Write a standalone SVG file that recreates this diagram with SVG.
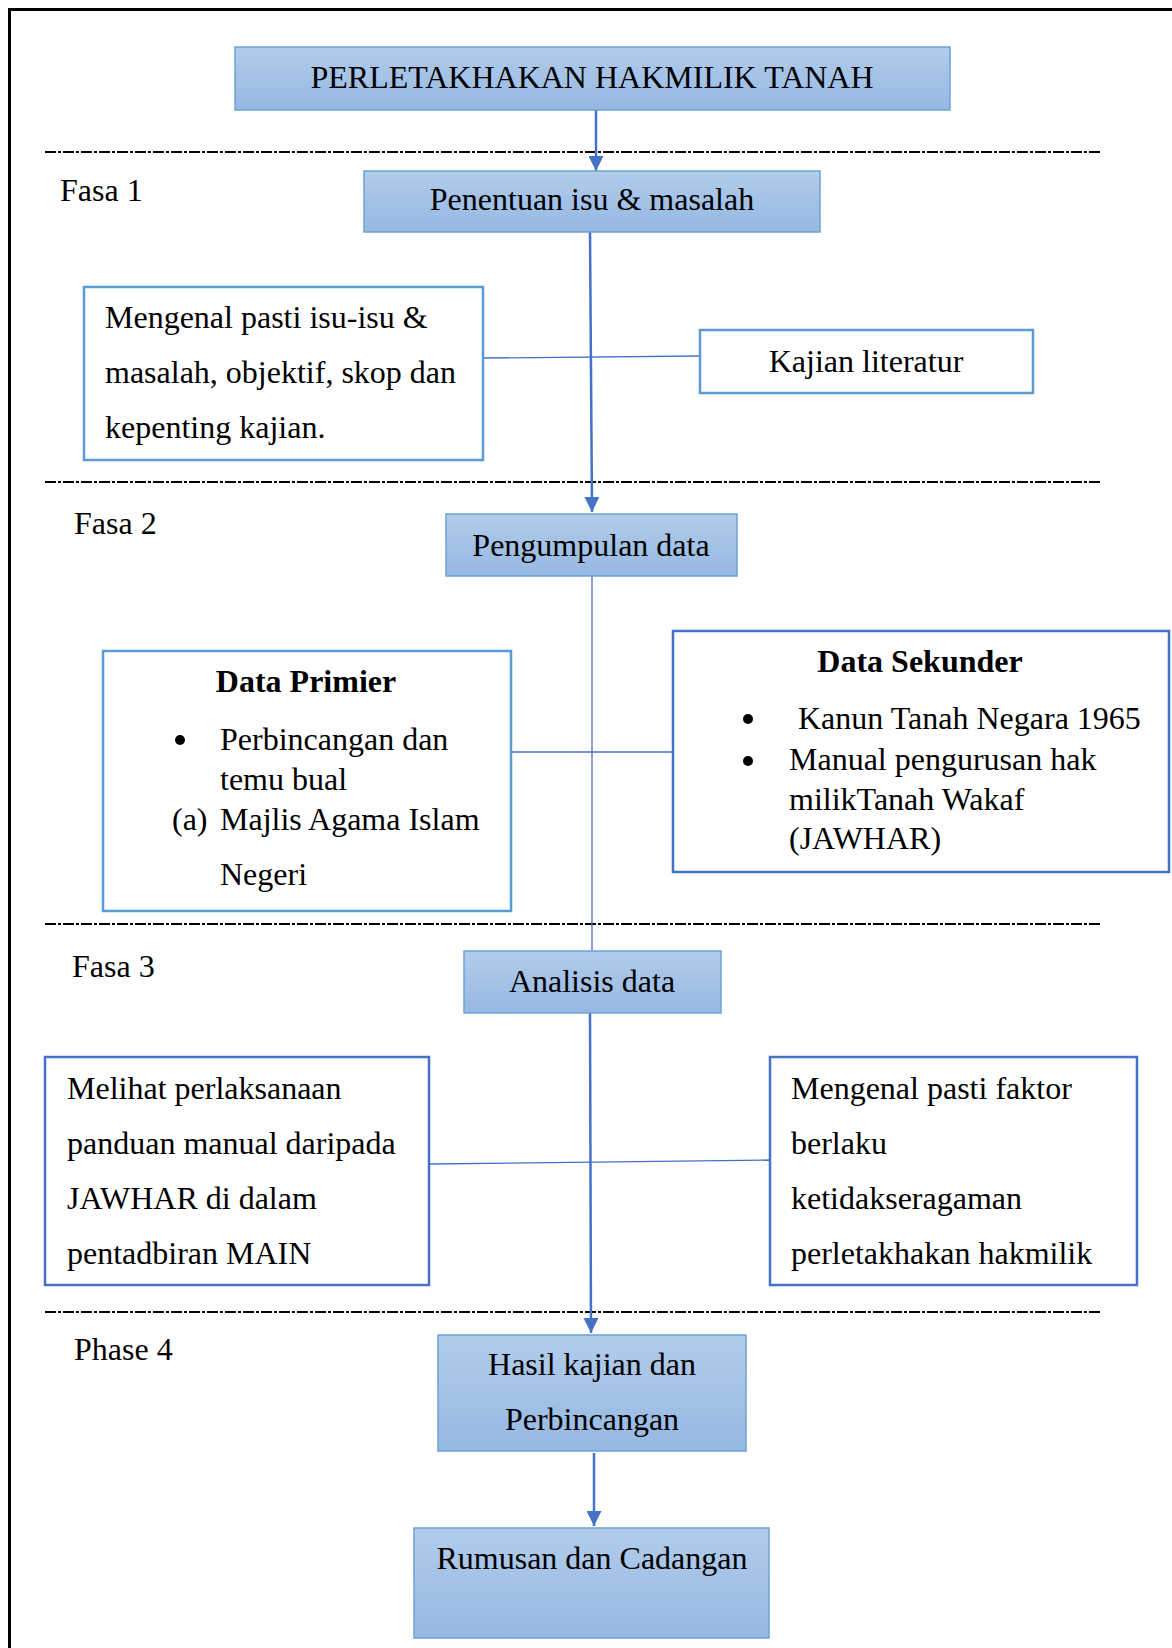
<svg xmlns="http://www.w3.org/2000/svg" width="1172" height="1648" viewBox="0 0 1172 1648">
<defs>
<linearGradient id="blue" x1="0" y1="0" x2="0" y2="1">
<stop offset="0" stop-color="#b2cceb"/>
<stop offset="1" stop-color="#95b8e2"/>
</linearGradient>
<marker id="arr" viewBox="0 0 10 10" refX="10" refY="5" markerWidth="6" markerHeight="6" markerUnits="strokeWidth" orient="auto">
<path d="M0,0 L10,5 L0,10 z" fill="#4472c4"/>
</marker>
<style>
text{font-family:"Liberation Serif","Times New Roman",serif;font-size:32px;fill:#000}
.c{text-anchor:middle}
.b{font-weight:bold}
.fill{fill:url(#blue);stroke:#6fa0d8;stroke-width:1.5}
.box{fill:#fff;stroke:#5b9bd5;stroke-width:2.5}
.box2{fill:#fff;stroke:#4472c4;stroke-width:2.5}
.dash{stroke:#000;stroke-width:2;stroke-dasharray:11 2 3 2;fill:none}
.conn{stroke:#4472c4;stroke-width:2.5;fill:none}
.thin{stroke:#4472c4;stroke-width:1.3;fill:none}
</style>
</defs>
<rect x="9.5" y="9.5" width="1200" height="1700" fill="#fff" stroke="#000" stroke-width="3"/>
<g id="dividers">
<line class="dash" x1="45" y1="152" x2="1102" y2="152"/>
<line class="dash" x1="45" y1="482" x2="1102" y2="482"/>
<line class="dash" x1="45" y1="924" x2="1102" y2="924"/>
<line class="dash" x1="45" y1="1312" x2="1102" y2="1312"/>
</g>
<g id="phase-labels">
<text x="60" y="201">Fasa 1</text>
<text x="74" y="534">Fasa 2</text>
<text x="72" y="977">Fasa 3</text>
<text x="74" y="1360">Phase 4</text>
</g>
<g id="connectors">
<line class="conn" x1="596" y1="110" x2="596" y2="171" marker-end="url(#arr)"/>
<polyline class="conn" points="590,232 592,512" marker-end="url(#arr)"/>
<line class="thin" x1="484" y1="358" x2="700" y2="356"/>
<line class="thin" x1="592" y1="576" x2="592" y2="951"/>
<line class="thin" x1="511" y1="752" x2="673" y2="752"/>
<polyline class="conn" points="590,1013 591,1333" marker-end="url(#arr)"/>
<line class="thin" x1="429" y1="1164" x2="770" y2="1160"/>
<line class="conn" x1="594" y1="1453" x2="594" y2="1526" marker-end="url(#arr)"/>
</g>
<g id="n-title">
<rect class="fill" x="235" y="47" width="715" height="63"/>
<text class="c" x="592" y="87.5">PERLETAKHAKAN HAKMILIK TANAH</text>
</g>
<g id="n-penentuan">
<rect class="fill" x="364" y="171" width="456" height="61"/>
<text class="c" x="592" y="209.5">Penentuan isu &amp; masalah</text>
</g>
<g id="n-mengenal">
<rect class="box" x="84" y="287" width="399" height="173"/>
<text x="105" y="327.5">Mengenal pasti isu-isu &amp;</text>
<text x="105" y="382.5">masalah, objektif, skop dan</text>
<text x="105" y="437.5">kepenting kajian.</text>
</g>
<g id="n-kajian">
<rect class="box" x="700" y="330" width="333" height="63"/>
<text class="c" x="866" y="371.5">Kajian literatur</text>
</g>
<g id="n-pengumpulan">
<rect class="fill" x="446" y="514" width="291" height="62"/>
<text class="c" x="591" y="555.5">Pengumpulan data</text>
</g>
<g id="n-primier">
<rect class="box" x="103" y="651" width="408" height="260"/>
<text class="c b" x="306" y="691.5">Data Primier</text>
<circle cx="180" cy="740" r="5"/>
<text x="220" y="749.5">Perbincangan dan</text>
<text x="220" y="789.5">temu bual</text>
<text x="172" y="829.5">(a)</text>
<text x="220" y="829.5">Majlis Agama Islam</text>
<text x="220" y="884.5">Negeri</text>
</g>
<g id="n-sekunder">
<rect class="box2" x="673" y="631" width="496" height="241"/>
<text class="c b" x="920" y="671.5">Data Sekunder</text>
<circle cx="748" cy="719" r="5"/>
<text x="798" y="728.5">Kanun Tanah Negara 1965</text>
<circle cx="748" cy="761" r="5"/>
<text x="789" y="769.5">Manual pengurusan hak</text>
<text x="789" y="809.5">milikTanah Wakaf</text>
<text x="789" y="848.5">(JAWHAR)</text>
</g>
<g id="n-analisis">
<rect class="fill" x="464" y="951" width="257" height="62"/>
<text class="c" x="592" y="991.5">Analisis data</text>
</g>
<g id="n-melihat">
<rect class="box2" x="45" y="1057" width="384" height="228"/>
<text x="67" y="1098.5">Melihat perlaksanaan</text>
<text x="67" y="1153.5">panduan manual daripada</text>
<text x="67" y="1208.5">JAWHAR di dalam</text>
<text x="67" y="1263.5">pentadbiran MAIN</text>
</g>
<g id="n-faktor">
<rect class="box2" x="770" y="1057" width="367" height="228"/>
<text x="791" y="1098.5">Mengenal pasti faktor</text>
<text x="791" y="1153.5">berlaku</text>
<text x="791" y="1208.5">ketidakseragaman</text>
<text x="791" y="1263.5">perletakhakan hakmilik</text>
</g>
<g id="n-hasil">
<rect class="fill" x="438" y="1335" width="308" height="116"/>
<text class="c" x="592" y="1374.5">Hasil kajian dan</text>
<text class="c" x="592" y="1429.5">Perbincangan</text>
</g>
<g id="n-rumusan">
<rect class="fill" x="414" y="1528" width="355" height="110"/>
<text class="c" x="592" y="1568.5">Rumusan dan Cadangan</text>
</g>
</svg>
